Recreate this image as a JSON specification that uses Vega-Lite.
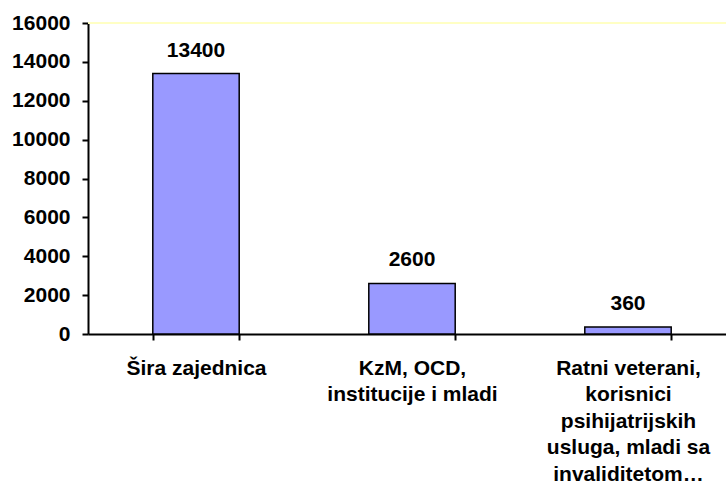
{
  "$schema": "https://vega.github.io/schema/vega-lite/v6.json",
  "width": 648,
  "height": 311,
  "autosize": {"type": "none"},
  "padding": {"left": 88, "top": 23, "right": 0, "bottom": 152},
  "background": "white",
  "view": {"stroke": null},
  "config": {
    "font": "Liberation Sans",
    "axis": {"labelFont": "Liberation Sans", "labelFontWeight": "bold", "labelColor": "black", "grid": false}
  },
  "data": {
    "values": [
      {"cat": "Šira zajednica", "value": 13400},
      {"cat": "KzM, OCD,|institucije i mladi", "value": 2600},
      {"cat": "Ratni veterani,|korisnici|psihijatrijskih|usluga, mladi sa|invaliditetom…", "value": 360}
    ]
  },
  "encoding": {
    "x": {
      "field": "cat", "type": "nominal", "sort": null,
      "scale": {"paddingInner": 0.6, "paddingOuter": 0.3},
      "axis": {
        "title": null, "labelAngle": 0, "labelLimit": 0,
        "labelExpr": "split(datum.label, '|')",
        "labelFontSize": 21, "labelLineHeight": 26.5, "labelPadding": 17,
        "tickBand": "extent", "tickSize": 6, "tickColor": "black", "tickWidth": 2,
        "domainColor": "black", "domainWidth": 2, "labelBaseline": "top"
      }
    },
    "y": {
      "field": "value", "type": "quantitative",
      "scale": {"domain": [0, 16000], "nice": false},
      "axis": {
        "title": null, "values": [0, 2000, 4000, 6000, 8000, 10000, 12000, 14000, 16000],
        "format": "d", "labelFontSize": 21, "labelPadding": 12,
        "tickSize": 6, "tickColor": "black", "tickWidth": 2,
        "domainColor": "black", "domainWidth": 2
      }
    }
  },
  "layer": [
    {
      "mark": {"type": "rule", "color": "#FFFFC4", "strokeWidth": 2},
      "encoding": {"y": {"datum": 16000}, "x": null}
    },
    {
      "mark": {"type": "bar", "fill": "#9999FF", "stroke": "black", "strokeWidth": 1.5}
    },
    {
      "mark": {"type": "text", "baseline": "bottom", "dy": -13, "fontSize": 21, "fontWeight": "bold", "color": "black", "font": "Liberation Sans"},
      "encoding": {"text": {"field": "value", "type": "quantitative", "format": "d"}}
    }
  ]
}
